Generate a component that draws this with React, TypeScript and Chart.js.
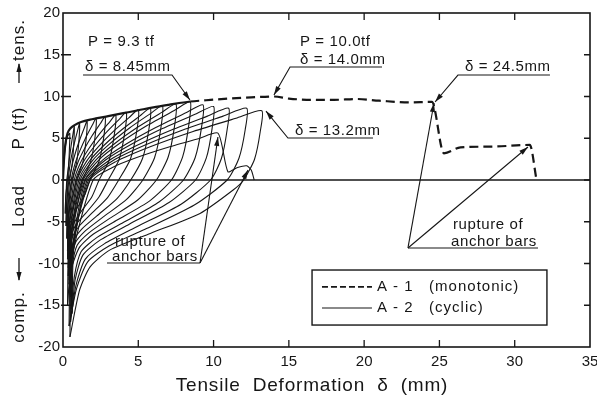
import React, { useEffect, useRef } from "react";
import { Chart, registerables } from "chart.js";

Chart.register(...registerables);

const INK = "#161616";
const FONT = "'Liberation Sans', Arial, sans-serif";

// Axis ticks
const xTickValues = [0, 5, 10, 15, 20, 25, 30, 35];
const yTickValues = [-20, -15, -10, -5, 0, 5, 10, 15, 20];

// A-1 (monotonic) envelope: deformation (mm) and load (tf)
const monoDelta = [0, 0.05, 0.15, 0.3, 0.5, 0.8, 1.2, 2, 3, 4, 5, 6, 7, 8.45, 9.5, 11, 12.5, 14, 15, 16.5, 18, 19.5, 21, 23, 24.5, 25.3, 26.4, 28.5, 31.0, 31.45];
const monoLoad = [0, 2.0, 4.2, 5.6, 6.2, 6.6, 6.95, 7.3, 7.65, 8.0, 8.35, 8.7, 9.0, 9.4, 9.55, 9.75, 9.9, 10.0, 9.75, 9.6, 9.6, 9.7, 9.5, 9.3, 9.35, 3.2, 3.9, 4.0, 4.2, 0];

// A-2 (cyclic) loops: [deformation, load]
const cycle01 = [[0,0],[0.08,2.5],[0.2,4.5],[0.32,5.3],[0.45,5.6],[0.43,3.9],[0.37,1.7],[0.25,0],[0.22,-1.0],[0.18,-2.2],[0.15,-4.0]];
const cycle02 = [[0.15,-4.0],[0.18,-2.0],[0.3,0],[0.37,1.7],[0.46,3.07],[0.57,4.48],[0.68,5.7],[0.75,6.4],[0.72,4.48],[0.61,1.92],[0.4,0],[0.33,-1.0],[0.27,-2.5],[0.22,-4.0],[0.2,-5.5]];
const cycle03 = [[0.2,-5.5],[0.24,-2.8],[0.35,0],[0.46,1.8],[0.61,3.26],[0.8,4.76],[0.99,6.05],[1.1,6.8],[1.06,4.76],[0.9,2.04],[0.6,0],[0.48,-1.2],[0.36,-2.6],[0.3,-4.2],[0.27,-5.6],[0.25,-7]];
const cycle04 = [[0.25,-7],[0.3,-3.5],[0.45,0],[0.62,1.88],[0.85,3.41],[1.14,4.97],[1.43,6.32],[1.6,7.1],[1.54,4.97],[1.32,2.13],[0.9,0],[0.72,-1.4],[0.5,-2.9],[0.38,-4.3],[0.33,-6],[0.3,-8.5]];
const cycle05 = [[0.3,-8.5],[0.36,-4.2],[0.55,0],[0.8,1.96],[1.13,3.55],[1.54,5.18],[1.95,6.59],[2.2,7.4],[2.13,5.18],[1.84,2.22],[1.3,0],[1.04,-1.6],[0.68,-3.2],[0.46,-4.5],[0.36,-6.3],[0.3,-9.5]];
const cycle06 = [[0.3,-9.5],[0.37,-4.7],[0.65,0],[0.97,2.01],[1.4,3.65],[1.94,5.32],[2.48,6.76],[2.8,7.6],[2.72,5.32],[2.4,2.28],[1.8,0],[1.44,-1.8],[0.9,-3.5],[0.6,-4.9],[0.45,-6.5],[0.38,-8.5],[0.35,-10.5]];
const cycle07 = [[0.35,-10.5],[0.42,-5.2],[0.75,0],[1.16,2.07],[1.71,3.74],[2.4,5.46],[3.09,6.94],[3.5,7.8],[3.41,5.46],[3.06,2.34],[2.4,0],[1.92,-2.0],[1.2,-3.8],[0.72,-5.2],[0.5,-6.5],[0.4,-8.5],[0.35,-11.5]];
const cycle08 = [[0.35,-11.5],[0.43,-5.7],[0.85,0],[1.35,2.15],[2.02,3.89],[2.86,5.67],[3.7,7.21],[4.2,8.1],[4.1,5.67],[3.72,2.43],[3.0,0],[2.4,-2.0],[1.5,-4.0],[0.84,-5.4],[0.55,-6.7],[0.45,-9],[0.4,-12]];
const cycle09 = [[0.4,-12],[0.48,-6.0],[0.95,0],[1.56,2.23],[2.37,4.03],[3.38,5.88],[4.39,7.48],[5.0,8.4],[4.9,5.88],[4.48,2.52],[3.7,0],[2.96,-2.1],[1.85,-4.1],[1.04,-5.6],[0.6,-7],[0.47,-9.4],[0.4,-12.5]];
const cycle10 = [[0.4,-12.5],[0.49,-6.2],[1.05,0],[1.76,2.28],[2.71,4.13],[3.9,6.02],[5.09,7.65],[5.8,8.6],[5.7,6.02],[5.28,2.58],[4.5,0],[3.6,-2.2],[2.25,-4.3],[1.26,-5.85],[0.7,-7.3],[0.52,-9.8],[0.45,-13]];
const cycle11 = [[0.45,-13],[0.55,-6.5],[1.15,0],[1.97,2.36],[3.06,4.27],[4.42,6.23],[5.78,7.92],[6.6,8.9],[6.5,6.23],[6.08,2.67],[5.3,0],[4.24,-2.3],[2.65,-4.45],[1.48,-6.1],[0.8,-7.6],[0.55,-10.1],[0.45,-13.5]];
const cycle12 = [[0.45,-13.5],[0.55,-6.7],[1.25,0],[2.19,2.41],[3.44,4.37],[5.0,6.37],[6.56,8.1],[7.5,9.1],[7.4,6.37],[6.98,2.73],[6.2,0],[4.96,-2.4],[3.1,-4.6],[1.74,-6.3],[0.93,-7.85],[0.6,-10.5],[0.5,-14]];
const cycle13 = [[0.5,-14],[0.6,-7],[1.35,0],[2.42,2.48],[3.84,4.49],[5.61,6.55],[7.39,8.32],[8.45,9.35],[8.35,6.55],[7.95,2.8],[7.2,0],[5.76,-2.5],[3.6,-4.8],[2.0,-6.5],[1.08,-8.1],[0.5,-11],[0.3,-15]];
const cycle14 = [[0.3,-15],[0.42,-7.5],[1.45,0],[2.63,2.39],[4.2,4.32],[6.16,6.3],[8.12,8.01],[9.3,9.0],[9.2,6.3],[8.78,2.7],[8.0,0],[6.4,-2.6],[4.0,-5.1],[2.24,-6.9],[1.2,-8.6],[0.75,-11.6],[0.55,-15.5]];
const cycle15 = [[0.55,-15.5],[0.67,-7.7],[1.5,0],[2.78,2.33],[4.48,4.22],[6.6,6.16],[8.73,7.83],[10.0,8.8],[9.9,6.16],[9.52,2.64],[8.8,0],[7.04,-2.7],[4.4,-5.3],[2.46,-7.2],[1.32,-9.0],[0.8,-12],[0.6,-16]];
const cycle16 = [[0.6,-16],[0.72,-8],[1.6,0],[3.01,2.28],[4.89,4.13],[7.24,6.02],[9.59,7.65],[11.0,8.6],[10.9,6.02],[10.52,2.58],[9.8,0],[7.84,-2.9],[4.9,-5.6],[2.74,-7.65],[1.47,-9.5],[0.85,-12.7],[0.5,-17]];
const cycle17 = [[0.5,-17],[0.63,-8.5],[1.7,0],[3.28,2.28],[5.38,4.13],[8.0,6.02],[10.63,7.65],[12.2,8.6],[12.1,6.02],[11.68,2.58],[10.9,0],[8.72,-3.0],[5.45,-5.9],[3.05,-7.9],[1.64,-9.8],[0.9,-13],[0.4,-17.5]];
const cycle18 = [[0.4,-17.5],[0.55,-8.7],[1.8,0],[3.51,2.2],[5.79,3.98],[8.64,5.81],[11.49,7.39],[13.2,8.3],[13.1,5.81],[12.72,2.49],[12.0,0],[11.3,-1.2],[9.1,-4.0],[5.8,-6.4],[3.1,-8.4],[1.8,-10.4],[1.1,-13.2],[0.46,-18.8]];
const cycle19 = [[0.46,-18.8],[0.6,-9.4],[2.0,0],[3.25,1.48],[4.9,2.69],[6.98,3.92],[9.05,4.98],[10.3,5.6],[10.95,1.0],[11.6,1.5],[12.2,1.7],[12.5,1.2],[12.7,0]];

const cycles = [cycle01, cycle02, cycle03, cycle04, cycle05, cycle06, cycle07, cycle08, cycle09, cycle10,
  cycle11, cycle12, cycle13, cycle14, cycle15, cycle16, cycle17, cycle18, cycle19];

// Text
const xTitle = "Tensile  Deformation  δ  (mm)";
const yTitleParts = ["comp.", "Load", "P (tf)", "tens."];
const legendLabels = ["A - 1   (monotonic)", "A - 2   (cyclic)"];

// Annotation text anchored in data coordinates
const notes = [
  { t: "P = 9.3 tf", x: 1.66, y: 16.53 },
  { t: "δ = 8.45mm", x: 1.46, y: 13.6 },
  { t: "P = 10.0tf", x: 15.74, y: 16.53 },
  { t: "δ = 14.0mm", x: 15.74, y: 14.4 },
  { t: "δ = 24.5mm", x: 26.7, y: 13.5 },
  { t: "δ = 13.2mm", x: 15.41, y: 5.9 },
  { t: "rupture of", x: 3.45, y: -7.43 },
  { t: "anchor bars", x: 3.25, y: -9.22 },
  { t: "rupture of", x: 25.9, y: -5.39 },
  { t: "anchor bars", x: 25.77, y: -7.43 },
];
// leader polylines (last point gets an arrowhead when arrow=true)
const leaders = [
  { p: [[1.33, 12.57], [7.24, 12.57], [8.43, 9.58]], arrow: true },
  { p: [[21.19, 13.53], [15.08, 13.53], [14.01, 10.18]], arrow: true },
  { p: [[32.34, 12.57], [26.23, 12.57], [24.71, 9.34]], arrow: true },
  { p: [[20.59, 5.03], [14.94, 5.03], [13.48, 8.26]], arrow: true },
  { p: [[2.92, -9.94], [9.1, -9.94]], arrow: false },
  { p: [[9.1, -9.94], [10.29, 5.15]], arrow: true },
  { p: [[9.1, -9.94], [12.29, 1.2]], arrow: true },
  { p: [[31.55, -8.14], [22.91, -8.14]], arrow: false },
  { p: [[22.91, -8.14], [24.64, 9.22]], arrow: true },
  { p: [[22.91, -8.14], [30.88, 3.95]], arrow: true },
];

function arrowHead(ctx: CanvasRenderingContext2D, x1: number, y1: number, x2: number, y2: number) {
  const a = Math.atan2(y2 - y1, x2 - x1);
  const L = 9, W = 2.6;
  ctx.beginPath();
  ctx.moveTo(x2, y2);
  ctx.lineTo(x2 - L * Math.cos(a) + W * Math.sin(a), y2 - L * Math.sin(a) - W * Math.cos(a));
  ctx.lineTo(x2 - L * Math.cos(a) - W * Math.sin(a), y2 - L * Math.sin(a) + W * Math.cos(a));
  ctx.closePath();
  ctx.fill();
}

const decor = {
  id: "decor",
  afterDraw(chart: any) {
    const { ctx, chartArea: a, scales } = chart;
    const X = (v: number) => scales.x.getPixelForValue(v);
    const Y = (v: number) => scales.y.getPixelForValue(v);
    ctx.save();
    ctx.strokeStyle = INK;
    ctx.fillStyle = INK;
    ctx.setLineDash([]);
    // frame
    ctx.lineWidth = 1.6;
    ctx.strokeRect(a.left, a.top, a.right - a.left, a.bottom - a.top);
    // zero line
    ctx.lineWidth = 1.5;
    ctx.beginPath();
    ctx.moveTo(a.left, Y(0));
    ctx.lineTo(a.right, Y(0));
    ctx.stroke();
    // inward ticks
    ctx.lineWidth = 1.3;
    ctx.beginPath();
    xTickValues.slice(1, -1).forEach((v) => {
      ctx.moveTo(X(v), a.bottom); ctx.lineTo(X(v), a.bottom - 7);
      ctx.moveTo(X(v), a.top); ctx.lineTo(X(v), a.top + 7);
    });
    yTickValues.slice(1, -1).forEach((v) => {
      ctx.moveTo(a.left - 2, Y(v)); ctx.lineTo(a.left + 8, Y(v));
      ctx.moveTo(a.right, Y(v)); ctx.lineTo(a.right - 6, Y(v));
    });
    ctx.stroke();

    // annotations
    ctx.font = `15px ${FONT}`;
    (ctx as any).letterSpacing = "0.6px";
    ctx.textBaseline = "middle";
    ctx.textAlign = "left";
    notes.forEach((n) => ctx.fillText(n.t, X(n.x), Y(n.y)));
    ctx.lineWidth = 1.1;
    leaders.forEach((l) => {
      ctx.beginPath();
      l.p.forEach(([px, py], i) => (i ? ctx.lineTo(X(px), Y(py)) : ctx.moveTo(X(px), Y(py))));
      ctx.stroke();
      if (l.arrow) {
        const n = l.p.length;
        arrowHead(ctx, X(l.p[n - 2][0]), Y(l.p[n - 2][1]), X(l.p[n - 1][0]), Y(l.p[n - 1][1]));
      }
    });

    // legend box
    const bx1 = X(16.54), by1 = Y(-10.78), bx2 = X(32.14), by2 = Y(-17.37);
    ctx.fillStyle = "#ffffff";
    ctx.fillRect(bx1, by1, bx2 - bx1, by2 - by1);
    ctx.fillStyle = INK;
    ctx.lineWidth = 1.4;
    ctx.strokeRect(bx1, by1, bx2 - bx1, by2 - by1);
    const rows = [-12.81, -15.33];
    ctx.lineWidth = 1.8;
    ctx.setLineDash([6, 3]);
    ctx.beginPath(); ctx.moveTo(X(17.2), Y(rows[0])); ctx.lineTo(X(20.52), Y(rows[0])); ctx.stroke();
    ctx.setLineDash([]);
    ctx.lineWidth = 1.1;
    ctx.beginPath(); ctx.moveTo(X(17.2), Y(rows[1])); ctx.lineTo(X(20.52), Y(rows[1])); ctx.stroke();
    (ctx as any).letterSpacing = "1px";
    ctx.fillText(legendLabels[0], X(20.85), Y(rows[0]));
    ctx.fillText(legendLabels[1], X(20.85), Y(rows[1]));

    // x title
    ctx.font = `19px ${FONT}`;
    (ctx as any).letterSpacing = "0.8px";
    ctx.textAlign = "center";
    ctx.textBaseline = "alphabetic";
    ctx.fillText(xTitle, 312, 391);

    // y title (rotated)
    ctx.save();
    ctx.translate(19, 182);
    ctx.rotate(-Math.PI / 2);
    ctx.font = `17px ${FONT}`;
    (ctx as any).letterSpacing = "1px";
    ctx.textAlign = "center";
    ctx.textBaseline = "middle";
    const pos = [-135, -24, 54, 142];
    yTitleParts.forEach((t, i) => ctx.fillText(t, pos[i], 0));
    ctx.lineWidth = 1.3;
    ctx.beginPath(); ctx.moveTo(-76, 0); ctx.lineTo(-98, 0); ctx.stroke();
    arrowHead(ctx, -76, 0, -99, 0);
    ctx.beginPath(); ctx.moveTo(99, 0); ctx.lineTo(118, 0); ctx.stroke();
    arrowHead(ctx, 99, 0, 119, 0);
    ctx.restore();

    ctx.restore();
  },
};

export default function App() {
  const ref = useRef<HTMLCanvasElement>(null);
  useEffect(() => {
    const datasets: any[] = [
      {
        data: monoDelta.map((x, i) => ({ x, y: monoLoad[i] })),
        borderColor: INK,
        borderWidth: 2.2,
        pointRadius: 0,
        cubicInterpolationMode: "monotone",
        tension: 0.3,
        fill: false,
        segment: {
          borderDash: (c: any) => (c.p0.parsed.x >= 8.4 ? [9, 5] : undefined),
        },
      },
      ...cycles.map((c) => ({
        data: c.map(([x, y]) => ({ x, y })),
        borderColor: INK,
        borderWidth: 1.1,
        pointRadius: 0,
        tension: 0.22,
        fill: false,
      })),
    ];
    const tickFont = { family: FONT, size: 15 };
    const chart = new Chart(ref.current as HTMLCanvasElement, {
      type: "line",
      data: { datasets },
      options: {
        animation: false,
        responsive: false,
        devicePixelRatio: 1,
        layout: { padding: { left: 0, right: 7, top: 13, bottom: 0 } },
        plugins: { legend: { display: false }, tooltip: { enabled: false } },
        scales: {
          x: {
            type: "linear",
            min: 0,
            max: 35,
            grid: { display: false, drawTicks: false },
            border: { display: false },
            ticks: { stepSize: 5, font: tickFont, color: INK, padding: 6, maxRotation: 0, autoSkip: false },
            afterFit: (s: any) => { s.height = 49; s.paddingLeft = 0; s.paddingRight = 0; },
          },
          y: {
            type: "linear",
            min: -20,
            max: 20,
            grid: { display: false, drawTicks: false },
            border: { display: false },
            ticks: { stepSize: 5, font: tickFont, color: INK, padding: 3, autoSkip: false },
            afterFit: (s: any) => { s.width = 63; s.paddingTop = 0; s.paddingBottom = 0; },
          },
        },
      } as any,
      plugins: [decor],
    });
    return () => chart.destroy();
  }, []);
  return (
    <div style={{ position: "absolute", left: 0, top: 0, width: 597, height: 396, background: "#fff" }}>
      <canvas ref={ref} width={597} height={396} style={{ display: "block", width: 597, height: 396 }} />
    </div>
  );
}
